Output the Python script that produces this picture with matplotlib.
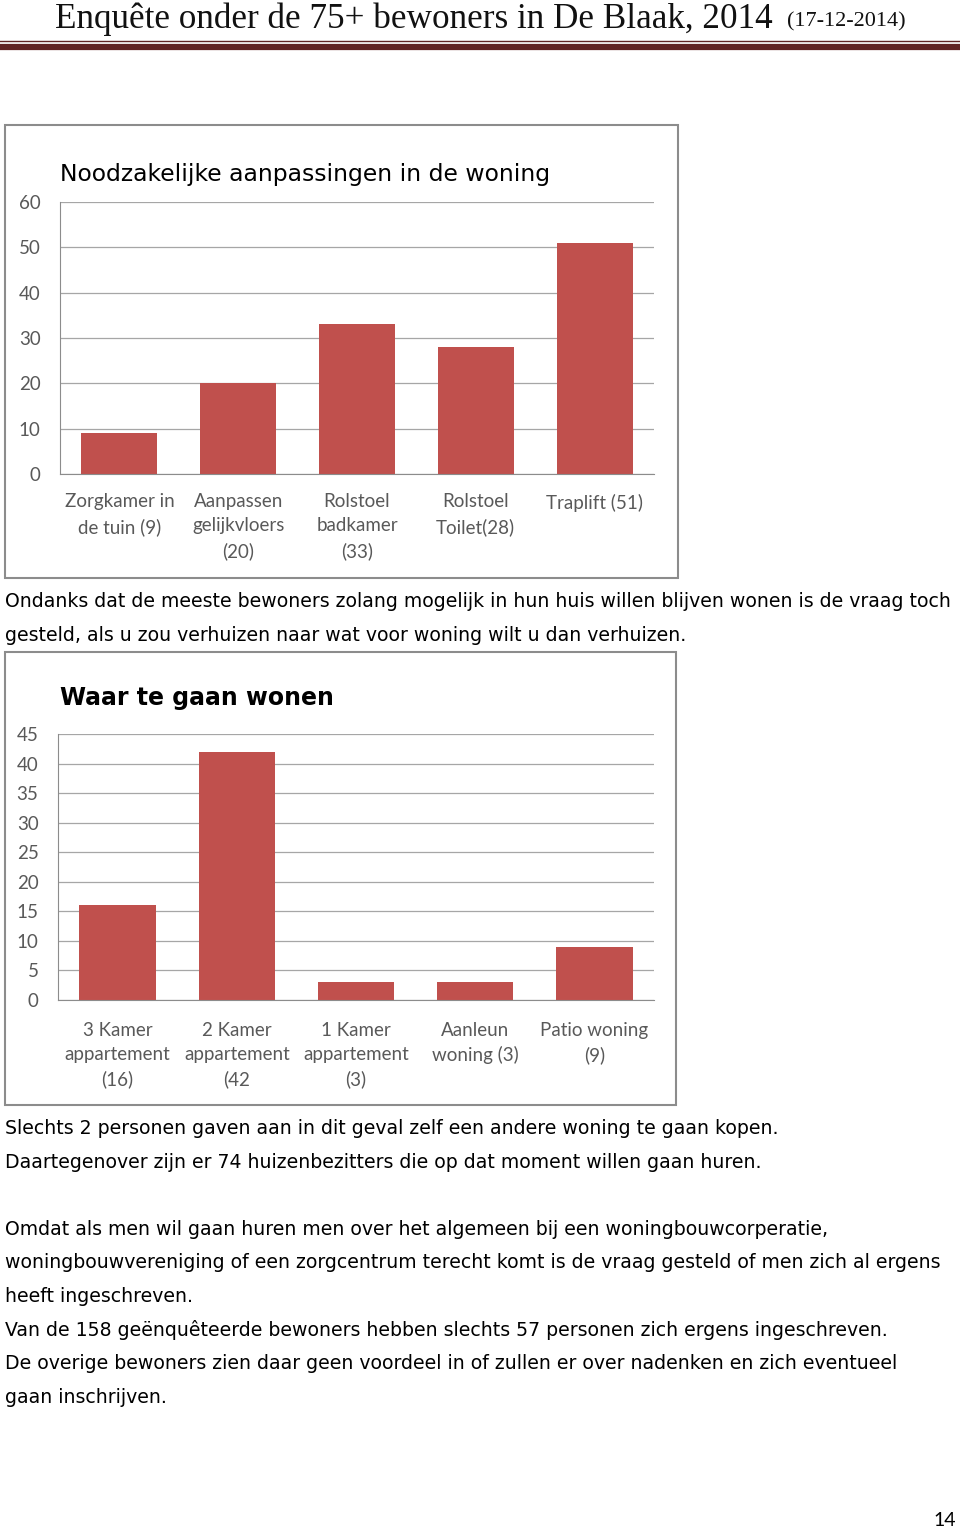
import matplotlib.pyplot as plt
from matplotlib.patches import Rectangle
from matplotlib.lines import Line2D

W, H = 960, 1531

# data
cats_1 = ["Zorgkamer in\nde tuin (9)", "Aanpassen\ngelijkvloers\n(20)", "Rolstoel\nbadkamer\n(33)",
          "Rolstoel\nToilet(28)", "Traplift (51)"]
vals_1 = [9, 20, 33, 28, 51]
yticks_1 = [0, 10, 20, 30, 40, 50, 60]

cats_2 = ["3 Kamer\nappartement\n(16)", "2 Kamer\nappartement\n(42", "1 Kamer\nappartement\n(3)",
          "Aanleun\nwoning (3)", "Patio woning\n(9)"]
vals_2 = [16, 42, 3, 3, 9]
yticks_2 = [0, 5, 10, 15, 20, 25, 30, 35, 40, 45]

body_1 = ["Ondanks dat de meeste bewoners zolang mogelijk in hun huis willen blijven wonen is de vraag toch",
          "gesteld, als u zou verhuizen naar wat voor woning wilt u dan verhuizen."]
body_2 = ["Slechts 2 personen gaven aan in dit geval zelf een andere woning te gaan kopen.",
          "Daartegenover zijn er 74 huizenbezitters die op dat moment willen gaan huren.",
          "",
          "Omdat als men wil gaan huren men over het algemeen bij een woningbouwcorperatie,",
          "woningbouwvereniging of een zorgcentrum terecht komt is de vraag gesteld of men zich al ergens",
          "heeft ingeschreven.",
          "Van de 158 geënquêteerde bewoners hebben slechts 57 personen zich ergens ingeschreven.",
          "De overige bewoners zien daar geen voordeel in of zullen er over nadenken en zich eventueel",
          "gaan inschrijven."]

BAR = "#C0504D"
GRAY = "#595959"
MAROON = "#622423"
BODY_FONT = "DejaVu Sans"
LABEL_FONT = "Lato"


def fx(x):
    return x / W


def fy(y):
    return 1 - y / H


fig = plt.figure(figsize=(W / 100, H / 100), dpi=100)

# header
fig.text(fx(55), fy(27.5), "Enquête onder de 75+ bewoners in De Blaak, 2014",
         family="Liberation Serif", fontsize=25.3, va="baseline", color="#111111")
fig.text(fx(787), fy(26.5), "(17-12-2014)", family="Liberation Serif", fontsize=16,
         va="baseline", color="#111111")
fig.add_artist(Line2D([0, 1], [fy(40.5), fy(40.5)], color=MAROON, lw=1.0))
fig.add_artist(Line2D([0, 1], [fy(46.5), fy(46.5)], color=MAROON, lw=4.5))


def chart(box, ax_px, title, cats, vals, yticks, title_bold, title_size, title_y, xpad):
    x0, y0, x1, y1 = box
    fig.add_artist(Rectangle((fx(x0), fy(y1)), (x1 - x0) / W, (y1 - y0) / H,
                             fill=False, edgecolor="#8c8c8c", lw=1.5))
    l, t, r, b = ax_px
    ax = fig.add_axes([fx(l), fy(b), (r - l) / W, (b - t) / H])
    ax.bar(range(len(vals)), vals, width=0.64, color=BAR)
    ax.set_xlim(-0.5, len(vals) - 0.5)
    ax.set_ylim(yticks[0], yticks[-1])
    ax.set_yticks(yticks)
    ax.yaxis.grid(True, color="#a6a6a6", lw=0.9)
    ax.set_axisbelow(True)
    for s in ["top", "right"]:
        ax.spines[s].set_visible(False)
    for s in ["left", "bottom"]:
        ax.spines[s].set_color("#8c8c8c")
    ax.set_xticks(range(len(vals)))
    ax.set_xticklabels(cats, linespacing=1.5)
    ax.tick_params(length=0, labelcolor=GRAY, labelsize=13.5)
    ax.tick_params(axis="y", pad=14)
    ax.tick_params(axis="x", pad=xpad)
    for lab in ax.get_xticklabels() + ax.get_yticklabels():
        lab.set_family(LABEL_FONT)
    fig.text(fx(60), fy(title_y), title, family=BODY_FONT, fontsize=title_size,
             fontweight="bold" if title_bold else "normal", va="baseline", color="black")
    return ax


chart((5, 125, 678, 578), (60, 202, 654, 474), "Noodzakelijke aanpassingen in de woning",
      cats_1, vals_1, yticks_1, False, 16.9, 181, 14)
chart((5, 652, 676, 1105), (58, 734, 654, 1000), "Waar te gaan wonen",
      cats_2, vals_2, yticks_2, True, 17, 705, 15.5)

for i, line in enumerate(body_1):
    fig.text(fx(5), fy(607 + i * 33.5), line, family=BODY_FONT, fontsize=13.55,
             va="baseline", color="black")
for i, line in enumerate(body_2):
    fig.text(fx(5), fy(1134 + i * 33.6), line, family=BODY_FONT, fontsize=13.55,
             va="baseline", color="black")

fig.text(fx(945), fy(1520), "14", family=LABEL_FONT, fontsize=14, ha="center",
         va="center", color="black")

fig.savefig("out.png", dpi=100)
